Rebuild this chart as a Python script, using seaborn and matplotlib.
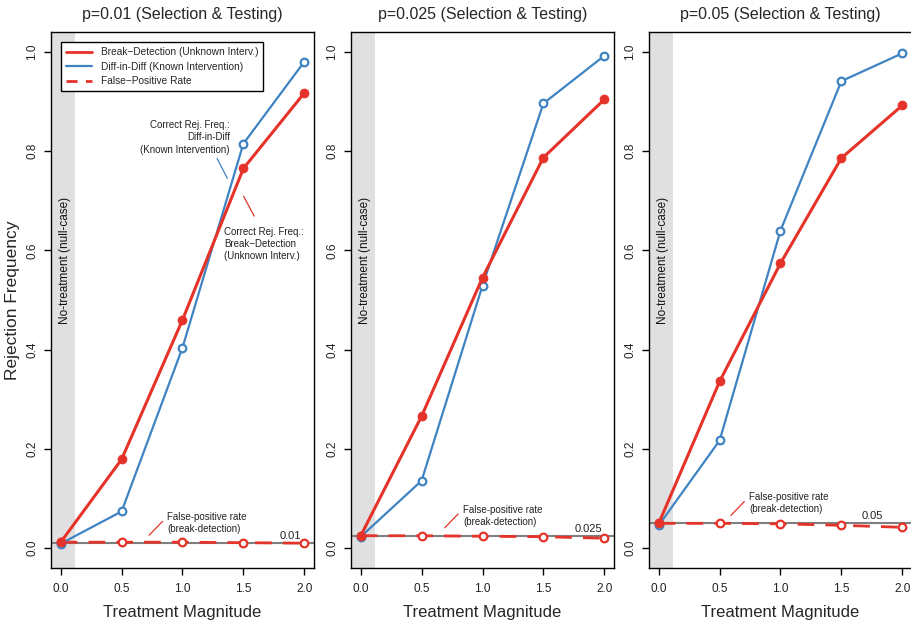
import numpy as np
import pandas as pd
import seaborn as sns
import matplotlib.pyplot as plt

# treatment magnitudes shared by all panels
magnitude = [0.0, 0.5, 1.0, 1.5, 2.0]
p_levels = [0.01, 0.025, 0.05]
p_labels = ["0.01", "0.025", "0.05"]

# rejection frequencies, one list per panel
break_detect = [
    [0.012, 0.179, 0.460, 0.765, 0.917],
    [0.025, 0.266, 0.545, 0.787, 0.904],
    [0.050, 0.336, 0.574, 0.786, 0.892],
]
diff_in_diff = [
    [0.009, 0.074, 0.404, 0.815, 0.980],
    [0.023, 0.136, 0.529, 0.896, 0.992],
    [0.046, 0.217, 0.640, 0.941, 0.997],
]
false_pos = [
    [0.012, 0.012, 0.012, 0.011, 0.010],
    [0.025, 0.025, 0.024, 0.023, 0.020],
    [0.050, 0.050, 0.049, 0.046, 0.042],
]

RED = "#E5332A"
BLUE = "#3F83C3"
GREY = "#7F7F7F"

sns.set_theme(style="white")
plt.rcParams["font.family"] = ["Liberation Sans", "DejaVu Sans"]
plt.rcParams["axes.linewidth"] = 1.0

fig = plt.figure(figsize=(9.12, 6.21), dpi=100)
lefts = [51, 351, 649]

for i, p in enumerate(p_levels):
    ax = fig.add_axes([lefts[i] / 912, 53 / 621, 263 / 912, 536 / 621])
    df = pd.DataFrame({
        "mag": magnitude,
        "brk": break_detect[i],
        "did": diff_in_diff[i],
        "fp": false_pos[i],
    })

    # null-case shaded band
    ax.axvspan(-0.1, 0.117, color="#E0E0E0", lw=0, zorder=0)
    ax.text(0.035, 0.58, "No-treatment (null-case)", rotation=90,
            ha="center", va="center", fontsize=8.5, color="#111111", zorder=1)

    # nominal level line
    ax.axhline(p, color=GREY, lw=1.5, zorder=1)

    sns.lineplot(data=df, x="mag", y="fp", ax=ax, color=RED, lw=2,
                 marker="o", markersize=5.5, markerfacecolor="white",
                 markeredgecolor=RED, markeredgewidth=1.6, zorder=3)
    ax.lines[-1].set_dashes([6, 4])
    sns.lineplot(data=df, x="mag", y="did", ax=ax, color=BLUE, lw=1.6,
                 marker="o", markersize=5.5, markerfacecolor="white",
                 markeredgecolor=BLUE, markeredgewidth=1.6, zorder=4)
    sns.lineplot(data=df, x="mag", y="brk", ax=ax, color=RED, lw=2.2,
                 marker="o", markersize=6.5, markerfacecolor=RED,
                 markeredgecolor=RED, markeredgewidth=0.5, zorder=5)

    ax.set_xlim(-0.08, 2.08)
    ax.set_ylim(-0.04, 1.04)
    ax.set_xticks([0.0, 0.5, 1.0, 1.5, 2.0])
    ax.set_xticklabels(["0.0", "0.5", "1.0", "1.5", "2.0"])
    ax.set_yticks([0.0, 0.2, 0.4, 0.6, 0.8, 1.0])
    ax.set_yticklabels(["0.0", "0.2", "0.4", "0.6", "0.8", "1.0"], rotation=90, va="center")
    ax.tick_params(axis="x", direction="out", length=5, width=1, color="black",
                   labelsize=8.5, labelcolor="#222222", pad=6, bottom=True)
    ax.tick_params(axis="y", direction="out", length=5, width=1, color="black",
                   labelsize=8.5, labelcolor="#222222", pad=4, left=True)
    for s in ax.spines.values():
        s.set_color("black")

    ax.set_title(f"p={p_labels[i]} (Selection & Testing)", fontsize=11.5, pad=9)
    ax.set_xlabel("Treatment Magnitude", fontsize=12, labelpad=7)
    if i == 0:
        ax.set_ylabel("Rejection Frequency", fontsize=12.5)
        ax.yaxis.set_label_coords(-0.116, 0.5)
    else:
        ax.set_ylabel("")

    # false-positive annotation and level label
    fp_x = [0.876, 0.84, 0.743][i]
    fp_y = p + 0.04
    ax.text(fp_x, fp_y, "False-positive rate\n(break-detection)", fontsize=7,
            ha="left", va="center", linespacing=1.25, color="#222222")
    ax.plot([fp_x - 0.04, fp_x - 0.15], [fp_y + 0.004, fp_y - 0.024], color=RED, lw=0.9)
    lvl_x = [1.886, 1.87, 1.755][i]
    ax.text(lvl_x, p + 0.004, p_labels[i], fontsize=8, ha="center", va="bottom",
            color="#222222")

    if i == 0:
        ax.text(1.39, 0.828, "Correct Rej. Freq.:\nDiff-in-Diff\n(Known Intervention)",
                fontsize=7, ha="right", va="center", linespacing=1.3, color="#222222")
        ax.plot([1.284, 1.369], [0.785, 0.745], color=BLUE, lw=0.9)
        ax.text(1.339, 0.613, "Correct Rej. Freq.:\nBreak\u2212Detection\n(Unknown Interv.)",
                fontsize=7, ha="left", va="center", linespacing=1.3, color="#222222")
        ax.plot([1.502, 1.589], [0.709, 0.669], color=RED, lw=0.9)

        handles = [
            plt.Line2D([], [], color=RED, lw=2),
            plt.Line2D([], [], color=BLUE, lw=1.6),
            plt.Line2D([], [], color=RED, lw=2, dashes=[4, 3]),
        ]
        labels = ["Break\u2212Detection (Unknown Interv.)",
                  "Diff-in-Diff (Known Intervention)",
                  "False\u2212Positive Rate"]
        leg = ax.legend(handles, labels, loc="upper left", bbox_to_anchor=(0.038, 0.981),
                        borderaxespad=0, fontsize=7.3, frameon=True, fancybox=False,
                        edgecolor="black", framealpha=1, handlelength=2.6,
                        borderpad=0.5, labelspacing=0.45)
        leg.get_frame().set_linewidth(1.0)
    elif ax.get_legend() is not None:
        ax.get_legend().remove()

fig.savefig("out.png", dpi=100)
